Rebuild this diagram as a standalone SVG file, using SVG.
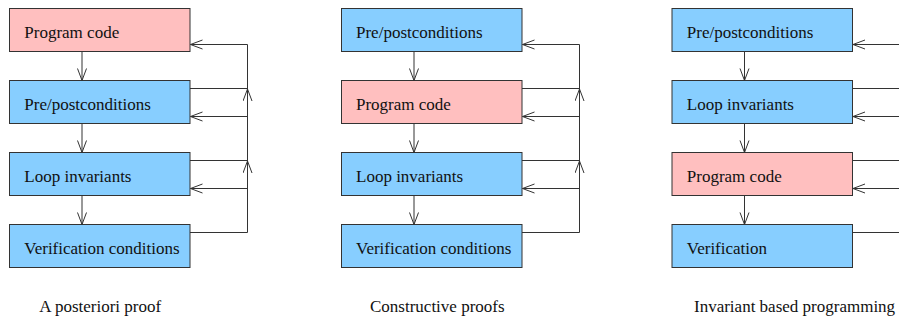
<svg xmlns="http://www.w3.org/2000/svg" width="899" height="320" viewBox="0 0 899 320">
  <style>
    .box { stroke: #333; stroke-width: 1; }
    .code { fill: #ffbfbf; }
    .spec { fill: #87ceff; }
    .lbl { font-family: "Liberation Serif", "Times New Roman", serif; font-size: 17px; fill: #111; }
    .ln { fill: none; stroke: #333; stroke-width: 1; }
    .arr { marker-end: url(#chev); }
  </style>
  <defs>
    <marker id="chev" markerUnits="userSpaceOnUse" markerWidth="14" markerHeight="12" refX="12.5" refY="5" orient="auto">
      <path d="M0.5 0.5 L12.5 5 L0.5 9.5" fill="none" stroke="#333" stroke-width="1"/>
    </marker>
  </defs>

  <!-- A posteriori proof -->
  <g id="posteriori">
    <g id="a-code"><rect class="box code" x="9.5" y="8.5" width="180.5" height="43"/><text class="lbl" x="24.3" y="37.7">Program code</text></g>
    <g id="a-prepost"><rect class="box spec" x="9.5" y="80.5" width="180.5" height="43"/><text class="lbl" x="24.3" y="109.7">Pre/postconditions</text></g>
    <g id="a-loop"><rect class="box spec" x="9.5" y="152.5" width="180.5" height="43"/><text class="lbl" x="24.3" y="181.7">Loop invariants</text></g>
    <g id="a-vc"><rect class="box spec" x="9.5" y="224.5" width="180.5" height="43"/><text class="lbl" x="24.3" y="253.7">Verification conditions</text></g>
    <g id="a-connectors">
      <path class="ln arr" d="M82 52 V80.5"/>
      <path class="ln arr" d="M82 124 V152.5"/>
      <path class="ln arr" d="M82 196 V224.5"/>
      <path class="ln" d="M190 88.5 H247.5"/>
      <path class="ln" d="M190 160.5 H247.5"/>
      <path class="ln" d="M190 232.5 H247.5 V161"/>
      <path class="ln arr" d="M247.5 175 V161"/>
      <path class="ln" d="M247.5 161 V89"/>
      <path class="ln arr" d="M247.5 103 V89"/>
      <path class="ln arr" d="M247.5 89 V44.5 H190.5"/>
      <path class="ln arr" d="M247.5 116.5 H190.5"/>
      <path class="ln arr" d="M247.5 188.5 H190.5"/>
    </g>
    <text class="lbl" x="39.3" y="312">A posteriori proof</text>
  </g>

  <!-- Constructive proofs -->
  <g id="constructive" transform="translate(332 0)">
    <g id="c-prepost"><rect class="box spec" x="9.5" y="8.5" width="180.5" height="43"/><text class="lbl" x="24" y="37.7">Pre/postconditions</text></g>
    <g id="c-code"><rect class="box code" x="9.5" y="80.5" width="180.5" height="43"/><text class="lbl" x="24" y="109.7">Program code</text></g>
    <g id="c-loop"><rect class="box spec" x="9.5" y="152.5" width="180.5" height="43"/><text class="lbl" x="24" y="181.7">Loop invariants</text></g>
    <g id="c-vc"><rect class="box spec" x="9.5" y="224.5" width="180.5" height="43"/><text class="lbl" x="24" y="253.7">Verification conditions</text></g>
    <g id="c-connectors">
      <path class="ln arr" d="M82 52 V80.5"/>
      <path class="ln arr" d="M82 124 V152.5"/>
      <path class="ln arr" d="M82 196 V224.5"/>
      <path class="ln" d="M190 88.5 H247.5"/>
      <path class="ln" d="M190 160.5 H247.5"/>
      <path class="ln" d="M190 232.5 H247.5 V161"/>
      <path class="ln arr" d="M247.5 175 V161"/>
      <path class="ln" d="M247.5 161 V89"/>
      <path class="ln arr" d="M247.5 103 V89"/>
      <path class="ln arr" d="M247.5 89 V44.5 H190.5"/>
      <path class="ln arr" d="M247.5 116.5 H190.5"/>
      <path class="ln arr" d="M247.5 188.5 H190.5"/>
    </g>
    <text class="lbl" x="38" y="312">Constructive proofs</text>
  </g>

  <!-- Invariant based programming -->
  <g id="invariant-based" transform="translate(662.5 0)">
    <g id="i-prepost"><rect class="box spec" x="9.5" y="8.5" width="180.5" height="43"/><text class="lbl" x="24.3" y="37.7">Pre/postconditions</text></g>
    <g id="i-loop"><rect class="box spec" x="9.5" y="80.5" width="180.5" height="43"/><text class="lbl" x="24.3" y="109.7">Loop invariants</text></g>
    <g id="i-code"><rect class="box code" x="9.5" y="152.5" width="180.5" height="43"/><text class="lbl" x="24.3" y="181.7">Program code</text></g>
    <g id="i-ver"><rect class="box spec" x="9.5" y="224.5" width="180.5" height="43"/><text class="lbl" x="24.3" y="253.7">Verification</text></g>
    <g id="i-connectors">
      <path class="ln arr" d="M82 52 V80.5"/>
      <path class="ln arr" d="M82 124 V152.5"/>
      <path class="ln arr" d="M82 196 V224.5"/>
      <path class="ln" d="M190 88.5 H247.5"/>
      <path class="ln" d="M190 160.5 H247.5"/>
      <path class="ln" d="M190 232.5 H247.5 V161"/>
      <path class="ln arr" d="M247.5 175 V161"/>
      <path class="ln" d="M247.5 161 V89"/>
      <path class="ln arr" d="M247.5 103 V89"/>
      <path class="ln arr" d="M247.5 89 V44.5 H190.5"/>
      <path class="ln arr" d="M247.5 116.5 H190.5"/>
      <path class="ln arr" d="M247.5 188.5 H190.5"/>
    </g>
    <text class="lbl" x="31.5" y="312">Invariant based programming</text>
  </g>
</svg>
